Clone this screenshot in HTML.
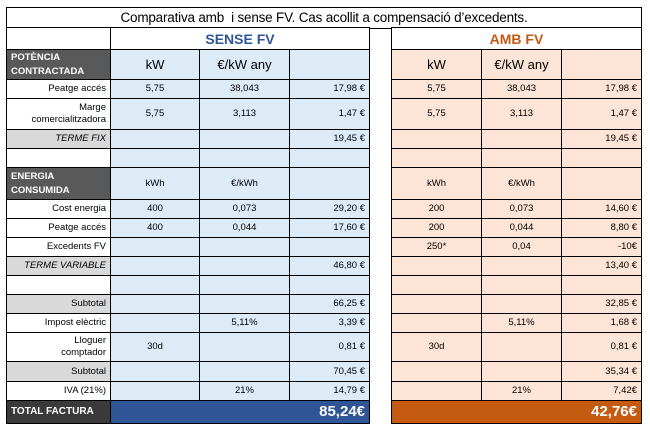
<!DOCTYPE html>
<html><head><meta charset="utf-8"><style>
body{margin:0;width:650px;height:434px;background:#fff;position:relative;overflow:hidden;font-family:"Liberation Sans",Arial,sans-serif;}
.title{position:absolute;left:6px;top:7px;width:634px;height:20px;border:1px solid #000;font-size:13.5px;line-height:20px;text-align:center;letter-spacing:-0.2px;}
table{position:absolute;border-collapse:collapse;table-layout:fixed;}
td{border:1px solid #000;padding:0 4px;font-size:9.5px;text-align:center;overflow:hidden;white-space:nowrap;line-height:12px;}
#L{left:6px;top:27px;width:363px;}
#R{left:391px;top:27px;width:250px;}
.b td{background:#DDEBF7}
.o td{background:#FCE4D6}
td.lab{background:#fff;text-align:right;white-space:normal;}
td.g{background:#D9D9D9;text-align:right}
td.i{font-style:italic}
td.dk{background:#595959;color:#fff;font-weight:bold;text-align:left;white-space:normal;font-size:9.5px;line-height:14px;}
td.r{text-align:right}
td.big{font-size:13px}
td.hd{background:#fff;font-weight:bold;font-size:14px}
td.w{background:#fff}
</style></head><body>
<div class="title">Comparativa amb &nbsp;i sense FV. Cas acollit a compensació d’excedents.</div>
<table id="L" class="b">
<colgroup><col style="width:104px"><col style="width:89px"><col style="width:90px"><col style="width:80px"></colgroup>
<tr style="height:22px"><td class="w"></td><td colspan="3" class="hd" style="color:#2F5597">SENSE FV</td></tr>
<tr style="height:30px"><td class="dk">POTÈNCIA<br>CONTRACTADA</td><td class="big">kW</td><td class="big">€/kW any</td><td></td></tr>
<tr style="height:19px"><td class="lab">Peatge accés</td><td>5,75</td><td>38,043</td><td class="r">17,98 €</td></tr>
<tr style="height:31px"><td class="lab">Marge<br>comercialitzadora</td><td>5,75</td><td>3,113</td><td class="r">1,47 €</td></tr>
<tr style="height:19px"><td class="g i">TERME FIX</td><td></td><td></td><td class="r">19,45 €</td></tr>
<tr style="height:19px"><td class="lab"></td><td></td><td></td><td></td></tr>
<tr style="height:32px"><td class="dk">ENERGIA<br>CONSUMIDA</td><td>kWh</td><td>€/kWh</td><td></td></tr>
<tr style="height:19px"><td class="lab">Cost energia</td><td>400</td><td>0,073</td><td class="r">29,20 €</td></tr>
<tr style="height:19px"><td class="lab">Peatge accés</td><td>400</td><td>0,044</td><td class="r">17,60 €</td></tr>
<tr style="height:19px"><td class="lab">Excedents FV</td><td></td><td></td><td></td></tr>
<tr style="height:19px"><td class="g i">TERME VARIABLE</td><td></td><td></td><td class="r">46,80 €</td></tr>
<tr style="height:19px"><td class="lab"></td><td></td><td></td><td></td></tr>
<tr style="height:19px"><td class="g">Subtotal</td><td></td><td></td><td class="r">66,25 €</td></tr>
<tr style="height:19px"><td class="lab">Impost elèctric</td><td></td><td>5,11%</td><td class="r">3,39 €</td></tr>
<tr style="height:29px"><td class="lab">Lloguer<br>comptador</td><td>30d</td><td></td><td class="r">0,81 €</td></tr>
<tr style="height:20px"><td class="g">Subtotal</td><td></td><td></td><td class="r">70,45 €</td></tr>
<tr style="height:19px"><td class="lab">IVA (21%)</td><td></td><td>21%</td><td class="r">14,79 €</td></tr>
<tr style="height:23px"><td class="dk" style="background:#3A3A3A;font-size:10px">TOTAL FACTURA</td><td colspan="3" class="r" style="background:#2F5597;color:#fff;font-weight:bold;font-size:15px">85,24€</td></tr>
</table>
<table id="R" class="o">
<colgroup><col style="width:90px"><col style="width:80px"><col style="width:80px"></colgroup>
<tr style="height:22px"><td colspan="3" class="hd" style="color:#C55A11">AMB FV</td></tr>
<tr style="height:30px"><td class="big">kW</td><td class="big">€/kW any</td><td></td></tr>
<tr style="height:19px"><td>5,75</td><td>38,043</td><td class="r">17,98 €</td></tr>
<tr style="height:31px"><td>5,75</td><td>3,113</td><td class="r">1,47 €</td></tr>
<tr style="height:19px"><td></td><td></td><td class="r">19,45 €</td></tr>
<tr style="height:19px"><td></td><td></td><td></td></tr>
<tr style="height:32px"><td>kWh</td><td>€/kWh</td><td></td></tr>
<tr style="height:19px"><td>200</td><td>0,073</td><td class="r">14,60 €</td></tr>
<tr style="height:19px"><td>200</td><td>0,044</td><td class="r">8,80 €</td></tr>
<tr style="height:19px"><td>250*</td><td>0,04</td><td class="r">-10€</td></tr>
<tr style="height:19px"><td></td><td></td><td class="r">13,40 €</td></tr>
<tr style="height:19px"><td></td><td></td><td></td></tr>
<tr style="height:19px"><td></td><td></td><td class="r">32,85 €</td></tr>
<tr style="height:19px"><td></td><td>5,11%</td><td class="r">1,68 €</td></tr>
<tr style="height:29px"><td>30d</td><td></td><td class="r">0,81 €</td></tr>
<tr style="height:20px"><td></td><td></td><td class="r">35,34 €</td></tr>
<tr style="height:19px"><td></td><td>21%</td><td class="r">7,42€</td></tr>
<tr style="height:23px"><td colspan="3" class="r" style="background:#C55A11;color:#fff;font-weight:bold;font-size:15px">42,76€</td></tr>
</table>
</body></html>
